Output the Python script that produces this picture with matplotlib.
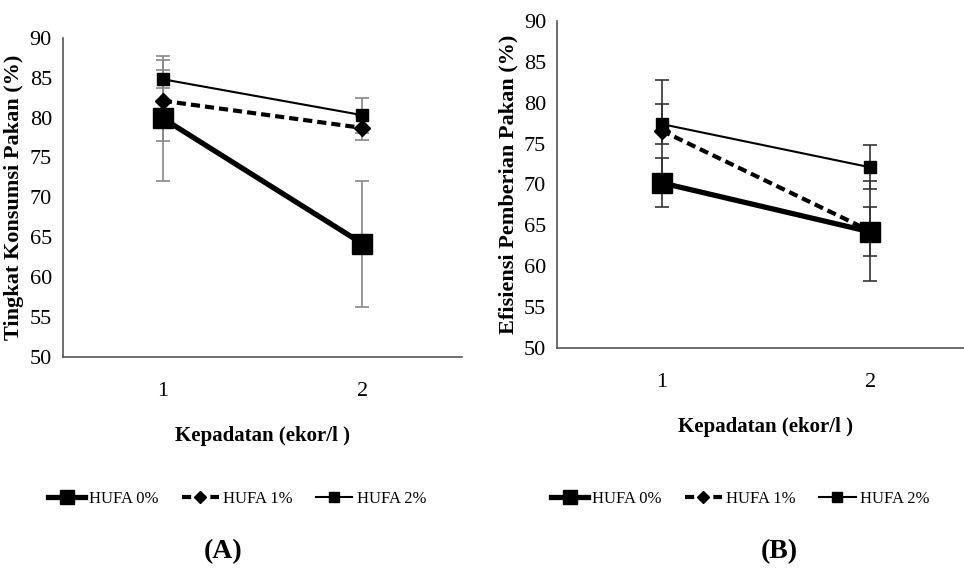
import matplotlib
matplotlib.use("Agg")
import matplotlib.pyplot as plt

plt.rcParams['font.family'] = ['Liberation Serif', 'DejaVu Serif']

kepadatan = [1, 2]
labels = ["HUFA 0%", "HUFA 1%", "HUFA 2%"]

# (A) Tingkat Konsumsi Pakan
konsumsi_0 = [79.9, 64.2]
konsumsi_1 = [82.1, 78.7]
konsumsi_2 = [84.8, 80.3]
konsumsi_err_0 = [7.8, 7.9]
konsumsi_err_1 = [5.1, 1.55]
konsumsi_err_2 = [1.1, 2.2]

# (B) Efisiensi Pemberian Pakan
efisiensi_0 = [70.2, 64.2]
efisiensi_1 = [76.6, 64.3]
efisiensi_2 = [77.4, 72.1]
efisiensi_err_0 = [3.0, 3.0]
efisiensi_err_1 = [6.2, 6.1]
efisiensi_err_2 = [2.5, 2.7]

yticks = [50, 55, 60, 65, 70, 75, 80, 85, 90]

styles = [
    dict(color="black", lw=3.8, ls="-", marker="s", ms=14),
    dict(color="black", lw=3.0, ls=(0, (2.2, 1.2)), marker="D", ms=8),
    dict(color="black", lw=1.5, ls="-", marker="s", ms=9),
]

fig = plt.figure(figsize=(9.64, 5.72), dpi=100)


def panel(rect, series, errs, ylabel, errcolor, legend_x, tag_x, tag):
    ax = fig.add_axes(rect)
    handles = []
    for vals, err, st, lab in zip(series, errs, styles, labels):
        ax.errorbar(kepadatan, vals, yerr=err, fmt="none", ecolor=errcolor,
                    elinewidth=1.2, capsize=5, capthick=1.2, zorder=1)
        h, = ax.plot(kepadatan, vals, label=lab, zorder=3, **st)
        handles.append(h)
    ax.set_xlim(0.5, 2.5)
    ax.set_ylim(50, 90)
    ax.set_yticks(yticks)
    ax.set_xticks(kepadatan)
    ax.tick_params(length=0, labelsize=16, pad=8)
    ax.tick_params(axis="x", pad=18)
    for s in ["top", "right"]:
        ax.spines[s].set_visible(False)
    for s in ["left", "bottom"]:
        ax.spines[s].set_color("#555555")
        ax.spines[s].set_linewidth(1.2)
    ax.set_ylabel(ylabel, fontsize=16, fontweight="bold", labelpad=4)
    ax.set_xlabel("Kepadatan (ekor/l )", fontsize=15, fontweight="bold", labelpad=18)
    fig.legend(handles=handles, loc="center", bbox_to_anchor=(legend_x, 0.128),
               ncol=3, frameon=False, fontsize=12, handlelength=2.2,
               handletextpad=0.25, columnspacing=1.4, markerscale=0.75)
    fig.text(tag_x, 0.035, tag, ha="center", va="center", fontsize=20,
             fontweight="bold")
    return ax


panel([0.0654, 0.376, 0.414, 0.558],
      [konsumsi_0, konsumsi_1, konsumsi_2],
      [konsumsi_err_0, konsumsi_err_1, konsumsi_err_2],
      "Tingkat Konsumsi Pakan (%)", "#888888", 0.246, 0.231, "(A)")

panel([0.578, 0.392, 0.433, 0.571],
      [efisiensi_0, efisiensi_1, efisiensi_2],
      [efisiensi_err_0, efisiensi_err_1, efisiensi_err_2],
      "Efisiensi Pemberian Pakan (%)", "#333333", 0.768, 0.808, "(B)")

fig.savefig("out.png", dpi=100)
